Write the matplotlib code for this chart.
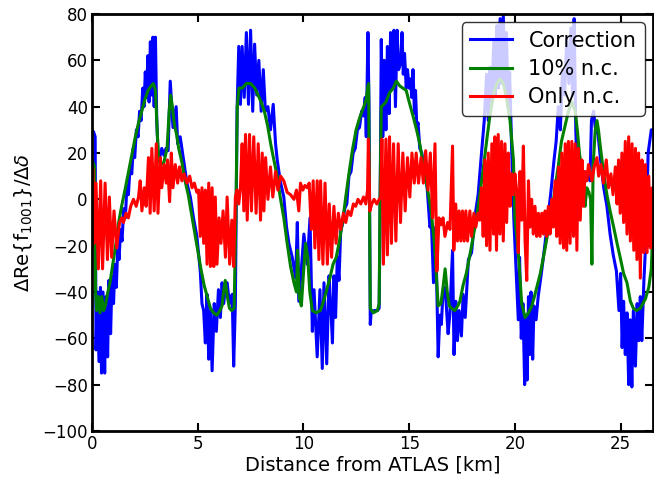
import matplotlib
matplotlib.use("Agg")
import matplotlib.pyplot as plt

# ---- data: (distance from ATLAS [km], value) ----
correction = [
    (0.0, 30), (0.08, 29), (0.15, 27), (0.19, -65), (0.25, -40), (0.33, -70), (0.40, -38), (0.45, -75),
    (0.52, -40), (0.60, -75), (0.66, -42), (0.74, -68), (0.80, -35), (0.88, -58), (0.95, -33), (1.02, -45),
    (1.08, -28), (1.15, -38), (1.22, -20), (1.28, -26), (1.35, -13), (1.42, -18), (1.50, -4), (1.58, -8),
    (1.65, 6), (1.72, 2), (1.80, 14), (1.88, 11), (1.95, 22), (2.02, 18), (2.10, 30), (2.18, 27),
    (2.25, 38), (2.32, 34), (2.40, 48), (2.46, 40), (2.52, 55), (2.58, 44), (2.64, 62), (2.70, 42),
    (2.76, 68), (2.82, 45), (2.88, 70), (2.94, 40), (3.00, 70), (3.06, 35), (3.12, 21), (3.20, 18),
    (3.30, 22), (3.40, 19), (3.50, 22), (3.60, 21), (3.70, 51), (3.83, 31), (3.98, 40), (4.05, 24),
    (4.17, 27), (4.33, 17), (4.49, 7), (4.65, 1), (4.80, -8), (4.96, -16), (5.12, -31), (5.20, -45),
    (5.28, -48), (5.36, -62), (5.44, -41), (5.52, -69), (5.60, -48), (5.68, -74), (5.78, -45), (5.88, -57),
    (5.98, -39), (6.07, -51), (6.15, -36), (6.23, -45), (6.31, -37), (6.39, -36), (6.50, -45), (6.63, -41),
    (6.70, -72), (6.78, -45), (6.86, 38), (6.94, 66), (7.02, 41), (7.10, 66), (7.20, 44), (7.30, 72),
    (7.40, 41), (7.50, 73), (7.60, 38), (7.69, 67), (7.79, 45), (7.89, 60), (8.00, 38), (8.10, 56),
    (8.20, 38), (8.32, 40), (8.44, 30), (8.57, 41), (8.68, 24), (8.76, 17), (8.90, 8), (9.07, 1),
    (9.20, -12), (9.31, -19), (9.47, -25), (9.63, -34), (9.71, -10), (9.78, -44), (9.90, -30), (10.02, -15),
    (10.18, -28), (10.31, -8), (10.42, -57), (10.50, -39), (10.65, -68), (10.78, -39), (10.89, -73),
    (10.97, -36), (11.10, -71), (11.21, -33), (11.30, -48), (11.37, -62), (11.44, -33), (11.52, -51),
    (11.60, -25), (11.68, -35), (11.76, -14), (11.86, -10), (11.95, -4), (12.05, -2), (12.15, 10),
    (12.25, 12), (12.35, 20), (12.45, 22), (12.55, 30), (12.65, 31), (12.75, 38), (12.85, 36), (12.92, 44),
    (12.97, 27), (13.05, 72), (13.10, 40), (13.16, -54), (13.20, -49), (13.35, -48), (13.50, -48),
    (13.58, -47), (13.62, -10), (13.68, 69), (13.75, 27), (13.82, 60), (13.90, 30), (13.97, 66), (14.05, 37),
    (14.12, 72), (14.20, 48), (14.28, 73), (14.35, 40), (14.43, 73), (14.50, 56), (14.60, 59), (14.66, 72),
    (14.72, 54), (14.78, 63), (14.86, 48), (14.92, 56), (15.00, 48), (15.07, 52), (15.12, 44), (15.18, 56),
    (15.25, 37), (15.30, 47), (15.36, 31), (15.42, 33), (15.50, 22), (15.60, 20), (15.75, 10), (15.85, 5),
    (15.98, -12), (16.05, -10), (16.15, -36), (16.25, -12), (16.37, -68), (16.45, -50), (16.52, -54),
    (16.60, -40), (16.70, -38), (16.84, -58), (16.92, -50), (17.05, -22), (17.12, -67), (17.20, -44),
    (17.28, -61), (17.36, -48), (17.47, -59), (17.55, -41), (17.65, -51), (17.80, -26), (17.95, -23),
    (18.10, -8), (18.26, 2), (18.42, 20), (18.55, 34), (18.66, 54), (18.74, 34), (18.82, 57), (18.90, 42),
    (19.00, 68), (19.07, 45), (19.15, 75), (19.22, 48), (19.30, 78), (19.37, 50), (19.45, 80), (19.52, 48),
    (19.60, 72), (19.67, 40), (19.75, 55), (19.85, 20), (19.95, -9), (20.05, -30), (20.16, -52),
    (20.22, -25), (20.30, -60), (20.38, -45), (20.46, -80), (20.50, -50), (20.58, -78), (20.64, -42),
    (20.70, -67), (20.76, -40), (20.84, -69), (20.90, -46), (21.00, -52), (21.10, -42), (21.25, -32),
    (21.40, -21), (21.55, -9), (21.70, 3), (21.85, 17), (21.95, 25), (22.05, 40), (22.15, 30), (22.25, 56),
    (22.35, 45), (22.45, 69), (22.55, 50), (22.65, 74), (22.72, 45), (22.80, 78), (22.88, 30), (22.95, 8),
    (23.05, 14), (23.15, 8), (23.25, 12), (23.35, 8), (23.45, 12), (23.55, 8), (23.62, 34), (23.72, 38),
    (23.80, 31), (23.93, 28), (24.05, 17), (24.20, 5), (24.35, -3), (24.50, -15), (24.65, -24), (24.80, -31),
    (24.92, -48), (25.00, -32), (25.07, -64), (25.14, -44), (25.22, -67), (25.30, -49), (25.38, -80),
    (25.45, -52), (25.53, -81), (25.60, -48), (25.70, -72), (25.78, -45), (25.86, -61), (25.93, -42),
    (26.00, -61), (26.10, -35), (26.20, -16), (26.30, 20), (26.45, 30), (26.66, 30),
]

ten_percent_nc = [
    (0.0, 17), (0.05, 16), (0.12, 14), (0.17, -40), (0.22, -48), (0.30, -42), (0.38, -49), (0.46, -42),
    (0.55, -48), (0.63, -46), (0.75, -40), (0.85, -36), (0.95, -30), (1.05, -24), (1.15, -18), (1.26, -10),
    (1.40, -3), (1.58, 5), (1.75, 13), (1.90, 20), (2.05, 27), (2.20, 33), (2.35, 38), (2.50, 43),
    (2.65, 47), (2.80, 49), (2.90, 50), (3.00, 47), (3.08, 30), (3.15, 17), (3.25, 15), (3.40, 16),
    (3.55, 22), (3.65, 38), (3.72, 45), (3.80, 40), (3.90, 32), (4.00, 28), (4.10, 22), (4.25, 16),
    (4.40, 8), (4.55, 2), (4.70, -6), (4.85, -14), (5.00, -22), (5.15, -30), (5.30, -37), (5.45, -42),
    (5.60, -47), (5.75, -49), (5.90, -50), (6.05, -48), (6.15, -46), (6.22, -40), (6.30, -35), (6.40, -42),
    (6.50, -47), (6.60, -48), (6.72, -47), (6.80, -10), (6.87, 40), (6.95, 48), (7.10, 48), (7.30, 50),
    (7.50, 50), (7.70, 48), (7.85, 45), (8.00, 42), (8.15, 38), (8.30, 32), (8.45, 24), (8.60, 17),
    (8.76, 10), (8.90, 1), (9.07, -8), (9.23, -19), (9.39, -29), (9.55, -36), (9.67, -40), (9.72, -22),
    (9.80, -42), (9.90, -46), (10.00, -32), (10.10, -19), (10.20, -25), (10.30, -40), (10.42, -48),
    (10.60, -49), (10.80, -48), (10.95, -44), (11.10, -39), (11.25, -34), (11.40, -28), (11.55, -25),
    (11.70, -18), (11.86, -9), (12.00, 1), (12.18, 13), (12.33, 22), (12.49, 30), (12.65, 35), (12.81, 39),
    (12.97, 43), (13.05, 49), (13.08, 50), (13.12, 0), (13.16, -47), (13.30, -49), (13.50, -48),
    (13.58, -45), (13.62, 0), (13.68, 40), (13.80, 41), (13.90, 42), (14.07, 46), (14.25, 48), (14.39, 51),
    (14.55, 49), (14.70, 48), (14.86, 47), (15.00, 42), (15.18, 36), (15.35, 30), (15.50, 24), (15.65, 16),
    (15.80, 8), (15.95, 0), (16.05, -6), (16.20, -20), (16.30, -35), (16.37, -46), (16.50, -45),
    (16.60, -38), (16.70, -30), (16.80, -40), (16.90, -46), (17.00, -47), (17.16, -48), (17.30, -46),
    (17.40, -44), (17.55, -37), (17.70, -32), (17.87, -24), (18.03, -16), (18.20, -7), (18.34, 2),
    (18.50, 13), (18.66, 25), (18.80, 35), (19.00, 46), (19.15, 50), (19.30, 52), (19.45, 50), (19.60, 44),
    (19.77, 34), (19.93, 17), (20.00, -8), (20.16, -23), (20.32, -45), (20.48, -51), (20.64, -49),
    (20.80, -46), (20.95, -41), (21.20, -32), (21.43, -21), (21.60, -12), (21.74, -6), (21.90, 5),
    (22.06, 15), (22.20, 25), (22.40, 33), (22.53, 38), (22.70, 42), (22.85, 38), (22.95, 30), (23.05, 20),
    (23.17, 12), (23.25, 3), (23.32, -3), (23.40, 5), (23.50, 3), (23.58, 0), (23.64, -28), (23.70, 15),
    (23.80, 30), (23.88, 34), (23.95, 30), (24.05, 22), (24.20, 11), (24.35, 2), (24.50, -5), (24.67, -12),
    (24.83, -19), (25.00, -26), (25.14, -32), (25.30, -36), (25.46, -44), (25.60, -47), (25.75, -48),
    (25.93, -47), (26.17, -43), (26.33, -38), (26.45, -30), (26.55, -5), (26.62, 15),
]

only_nc = [
    (0.0, 14), (0.05, 13), (0.10, -19), (0.19, 7), (0.30, -30), (0.41, 8), (0.50, -30), (0.62, 7),
    (0.73, -26), (0.82, 1), (0.93, -25), (1.04, -5), (1.17, -21), (1.30, -10), (1.41, -8), (1.49, -10),
    (1.61, -6), (1.72, -8), (1.83, -3), (1.96, 0), (2.09, -3), (2.20, 1), (2.28, 8), (2.36, -5),
    (2.47, 5), (2.56, -3), (2.67, 18), (2.75, -6), (2.83, 22), (2.94, -5), (3.04, 24), (3.12, -6),
    (3.23, 18), (3.30, 5), (3.41, 15), (3.51, 7), (3.57, 17), (3.67, -1), (3.75, 20), (3.83, 5),
    (3.94, 15), (4.05, 7), (4.14, 14), (4.25, 8), (4.36, 11), (4.49, 7), (4.62, 10), (4.73, 5),
    (4.84, 7), (4.96, 3), (5.04, 4), (5.12, -16), (5.20, 5), (5.28, -19), (5.36, 4), (5.44, -28),
    (5.52, 7), (5.60, -29), (5.68, 5), (5.76, -29), (5.83, 1), (5.91, -28), (6.01, -8), (6.10, -19),
    (6.20, -5), (6.31, -25), (6.39, 1), (6.51, -28), (6.61, -9), (6.70, -29), (6.78, 1), (6.86, 4),
    (6.94, -2), (7.02, 5), (7.10, 24), (7.18, -5), (7.26, 28), (7.34, -9), (7.45, 28), (7.54, -5),
    (7.65, 27), (7.76, -6), (7.86, 24), (7.97, -9), (8.05, 20), (8.13, -5), (8.21, 18), (8.32, 0),
    (8.44, 14), (8.55, 1), (8.68, 12), (8.79, 4), (8.92, 10), (9.07, 8), (9.23, 3), (9.39, 2),
    (9.55, 0), (9.67, 4), (9.78, -5), (9.86, 7), (9.97, 4), (10.07, 6), (10.18, 5), (10.27, 7),
    (10.37, -13), (10.46, 8), (10.54, -21), (10.65, 8), (10.73, -26), (10.81, 8), (10.92, -28), (11.02, 7),
    (11.13, -28), (11.22, -2), (11.33, -25), (11.44, -3), (11.54, -19), (11.65, -6), (11.76, -13),
    (11.89, -6), (12.00, -10), (12.11, -5), (12.24, -7), (12.36, -2), (12.47, -3), (12.58, 0), (12.71, -2),
    (12.84, 1), (12.95, -2), (13.03, 4), (13.07, 26), (13.14, -5), (13.23, -2), (13.34, 0), (13.47, -2),
    (13.58, 0), (13.66, 1), (13.71, 26), (13.78, -28), (13.90, 26), (13.97, -24), (14.07, 27), (14.16, -19),
    (14.26, 24), (14.37, -18), (14.48, 24), (14.59, -10), (14.70, 20), (14.81, -5), (14.92, 18), (15.03, 1),
    (15.13, 20), (15.24, 7), (15.33, 20), (15.44, 7), (15.56, 18), (15.67, 7), (15.78, 21), (15.89, 4),
    (16.00, 20), (16.11, -8), (16.22, 24), (16.31, -31), (16.41, -8), (16.50, -11), (16.60, -8),
    (16.69, -16), (16.82, -10), (16.93, -13), (17.05, 23), (17.11, -22), (17.20, -2), (17.28, -18),
    (17.36, -5), (17.44, -18), (17.52, -5), (17.60, -18), (17.68, -5), (17.76, -18), (17.87, -5),
    (17.95, -16), (18.06, -6), (18.15, -12), (18.26, -6), (18.34, -9), (18.42, 5), (18.50, -16),
    (18.58, 17), (18.66, -20), (18.74, 20), (18.82, -22), (18.91, 24), (18.99, -15), (19.05, 27),
    (19.13, -22), (19.21, 28), (19.29, -15), (19.37, 25), (19.45, -18), (19.53, 24), (19.61, -10),
    (19.69, 20), (19.77, -3), (19.84, 11), (19.92, 2), (20.00, 11), (20.08, 4), (20.16, -23), (20.24, 12),
    (20.32, -9), (20.40, 23), (20.48, -18), (20.56, -35), (20.64, 8), (20.71, -12), (20.79, 0), (20.87, -15),
    (20.95, -3), (21.03, -16), (21.11, -6), (21.19, -16), (21.27, -6), (21.35, -15), (21.43, -5),
    (21.50, -16), (21.58, -3), (21.66, -15), (21.74, 0), (21.82, -12), (21.90, 8), (21.98, -16),
    (22.06, 14), (22.14, -19), (22.22, 20), (22.30, -21), (22.38, 24), (22.45, -22), (22.53, 25),
    (22.61, -19), (22.69, 25), (22.77, -16), (22.85, 24), (22.93, -22), (23.00, 22), (23.09, -9),
    (23.17, 17), (23.24, -3), (23.32, 12), (23.40, 8), (23.48, 15), (23.64, 8), (23.75, 14), (23.88, 18),
    (23.96, 10), (24.07, 15), (24.19, 7), (24.32, 17), (24.43, 5), (24.54, 11), (24.64, 2), (24.75, 14),
    (24.83, -2), (24.90, 17), (24.98, -6), (25.06, 20), (25.14, -10), (25.22, 25), (25.30, -15),
    (25.38, 27), (25.46, -18), (25.54, 24), (25.62, -22), (25.70, 22), (25.77, -26), (25.85, 20),
    (25.93, -34), (26.01, 17), (26.09, -23), (26.17, 15), (26.25, -23), (26.33, 10), (26.41, -21),
    (26.49, 5), (26.56, -22), (26.62, -3),
]

series_labels = ["Correction", "10% n.c.", "Only n.c."]
series_colors = ["blue", "green", "red"]
x_ticks = [0, 5, 10, 15, 20, 25]
y_ticks = [-100, -80, -60, -40, -20, 0, 20, 40, 60, 80]

plt.rcParams["mathtext.fontset"] = "dejavusans"

fig = plt.figure(figsize=(6.54, 4.80), dpi=100)
ax = fig.add_axes([92 / 654, 49 / 480, 561 / 654, 417 / 480])

for data, lab, col in zip([correction, ten_percent_nc, only_nc], series_labels, series_colors):
    xs = [p[0] for p in data]
    ys = [p[1] for p in data]
    ax.plot(xs, ys, color=col, lw=2.2, label=lab)

ax.set_xlim(0, 26.53)
ax.set_ylim(-100, 80)
ax.set_xticks(x_ticks)
ax.set_yticks(y_ticks)
ax.tick_params(direction="in", length=6, width=1.5, top=True, right=True, labelsize=12, pad=3)
for sp in ax.spines.values():
    sp.set_linewidth(2)

ax.set_xlabel("Distance from ATLAS [km]", fontsize=14, labelpad=2)
ax.set_ylabel(r"$\Delta\mathrm{Re}\{\mathrm{f}_{1001}\}/\Delta\delta$", fontsize=14, labelpad=6)

leg = ax.legend(loc="upper right", fontsize=15, framealpha=0.8, fancybox=True,
                handlelength=2.0, borderaxespad=0.4, labelspacing=0.4)
leg.get_frame().set_edgecolor("black")
leg.get_frame().set_linewidth(1.0)

fig.savefig("out.png", dpi=100)
